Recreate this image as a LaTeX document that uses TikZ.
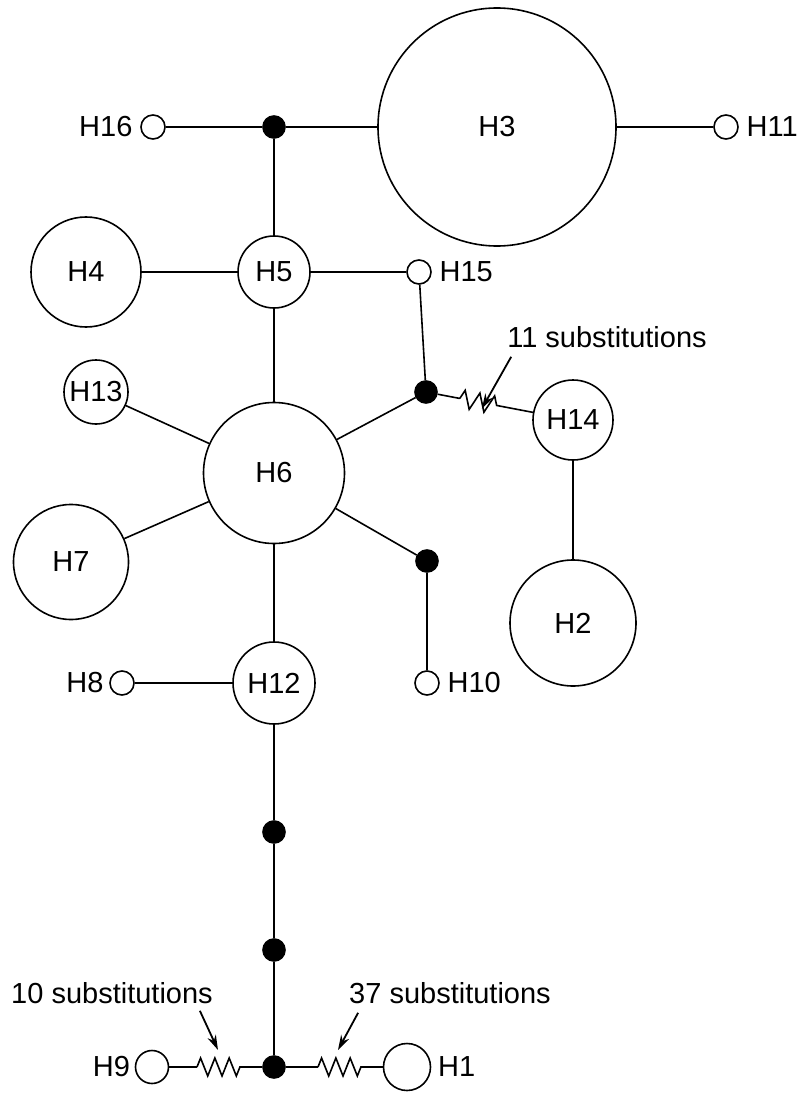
\documentclass[tikz,border=0pt]{standalone}
\usepackage{fontspec}
\setmainfont{Liberation Sans}
\usetikzlibrary{arrows.meta, positioning, calc, decorations.pathmorphing}

\begin{document}
\begin{tikzpicture}[
    x=1pt, y=-1pt,
    font=\fontsize{29}{34}\selectfont,
    line width=1.6pt,
    hap/.style={draw, circle, inner sep=0pt, minimum size=#1},
    small/.style={hap=24pt},
    mv/.style={draw, circle, fill=black, inner sep=0pt, minimum size=22pt},
    every label/.style={inner sep=0pt},
    label distance=7pt,
    zz/.style={decorate, decoration={zigzag, segment length=#1, amplitude=9pt}},
    zz/.default=14.3pt,
    arr/.style={-{Stealth[length=15pt, width=9pt]}, line width=1.8pt},
  ]
    \useasboundingbox (0,0) rectangle (801,1094);

    % haplotypes
    \node[hap=238pt] (H3)  at (497,127) {H3};
    \node[small, label=right:H11] (H11) at (726,127) {};
    \node[small, label=left:H16]  (H16) at (153,127) {};
    \node[mv] (m1) at (274,127) {};

    \node[hap=72pt]  (H5)  at (274,272) {H5};
    \node[hap=110pt] (H4)  at (86,272)  {H4};
    \node[small, label=right:H15] (H15) at (419,272) {};

    \node[mv] (m2) at (426,392) {};
    \node[hap=80pt]  (H14) at (573,420) {H14};
    \node[hap=64pt]  (H13) at (96,392)  {H13};
    \node[hap=141pt] (H6)  at (274,473) {H6};
    \node[hap=115pt] (H7)  at (71,562)  {H7};
    \node[mv] (m3) at (427,561) {};
    \node[small, label=right:H10] (H10) at (427,683) {};
    \node[hap=126pt] (H2)  at (573,623) {H2};

    \node[hap=82pt]  (H12) at (274,683) {H12};
    \node[small, label={[label distance=5pt]left:H8}] (H8) at (122,683) {};

    \node[mv] (m4) at (274,832) {};
    \node[mv] (m5) at (274,950) {};
    \node[mv] (m6) at (274,1067) {};
    \node[hap=33pt, label={[label distance=4pt]left:H9}] (H9) at (152,1067) {};
    \node[hap=47pt, label={[label distance=6pt]right:H1}] (H1) at (407,1067) {};

    % substitution labels
    \node (sub11) at (607,337)  {11 substitutions};
    \node (sub10) at (112,993)  {10 substitutions};
    \node (sub37) at (450,993)  {37 substitutions};

    \coordinate (zT1) at ($(m2)!0.23!(H14)$);
    \coordinate (zT2) at ($(m2)!0.53!(H14)$);
    \coordinate (zL1) at (197,1067);
    \coordinate (zL2) at (240,1067);
    \coordinate (zR1) at (318,1067);
    \coordinate (zR2) at (361,1067);

    \draw (H16) -- (m1);
    \draw (m1)  -- (H3);
    \draw (H3)  -- (H11);
    \draw (m1)  -- (H5);
    \draw (H4)  -- (H5);
    \draw (H5)  -- (H15);
    \draw (H5)  -- (H6);
    \draw (H15) -- (m2);
    \draw (H6)  -- (m2);
    \draw (H13) -- (H6);
    \draw (H7)  -- (H6);
    \draw (H6)  -- (m3);
    \draw (m3)  -- (H10);
    \draw (H14) -- (H2);
    \draw (H6)  -- (H12);
    \draw (H8)  -- (H12);
    \draw (H12) -- (m4);
    \draw (m4)  -- (m5);
    \draw (m5)  -- (m6);

    % long branches
    \draw (m2)  -- (zT1);
    \draw[zz=15pt] (zT1) -- (zT2);
    \draw (zT2) -- (H14);
    \draw (H9)  -- (zL1);
    \draw[zz] (zL1) -- (zL2);
    \draw (zL2) -- (m6);
    \draw (m6)  -- (zR1);
    \draw[zz] (zR1) -- (zR2);
    \draw (zR2) -- (H1);

    \draw[arr] ([xshift=8pt, yshift=-5pt]sub11.south west) -- ([yshift=-6pt]$(zT1)!0.5!(zT2)$);
    \draw[arr] ([xshift=-17pt, yshift=-3pt]sub10.south east) -- (218,1050);
    \draw[arr] ([xshift=13pt, yshift=-5pt]sub37.south west) -- (338,1050);
  \end{tikzpicture}
\end{document}
